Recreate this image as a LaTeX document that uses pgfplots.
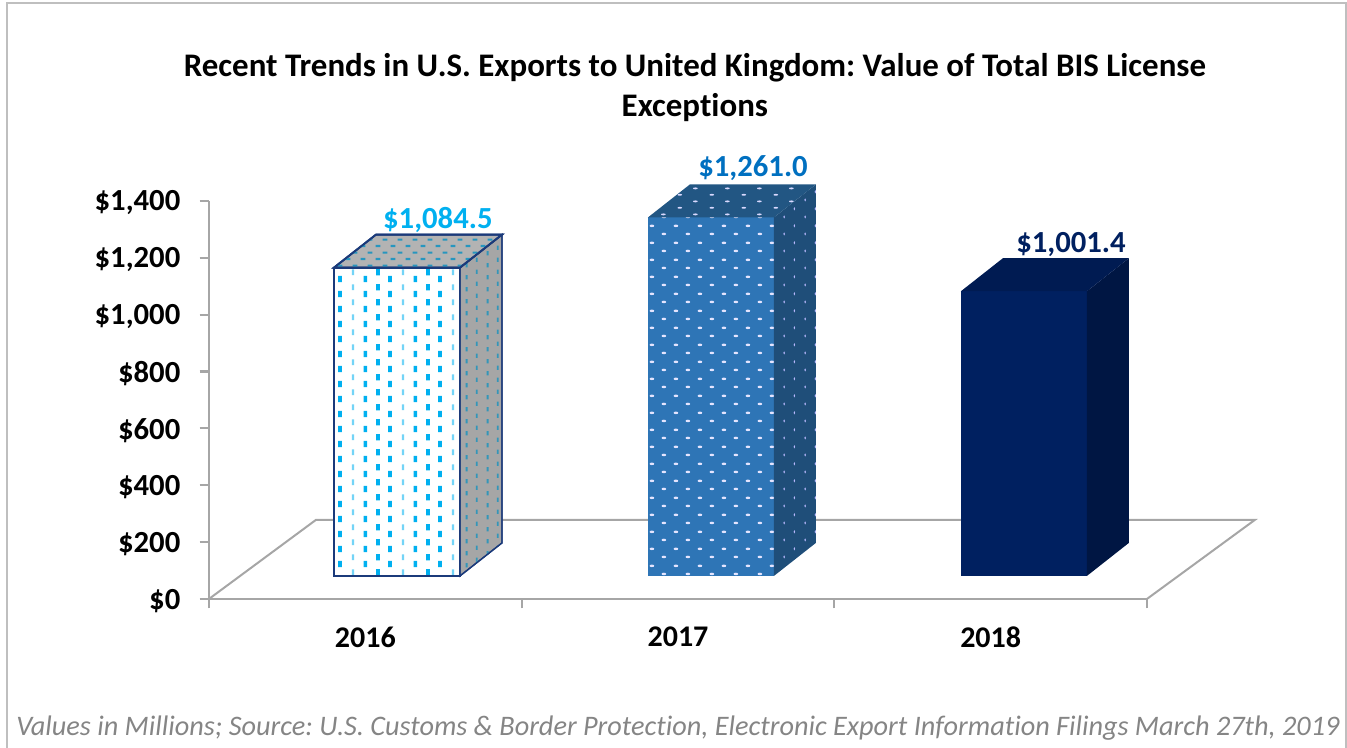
\documentclass[border=0pt]{standalone}
\usepackage{fontspec}
\setmainfont[Ligatures=NoCommon]{Carlito}
\usepackage{pgfplots}
\pgfplotsset{compat=1.18}
\usetikzlibrary{patterns}
\frenchspacing

\definecolor{axgray}{HTML}{A6A6A6}
\definecolor{framegray}{HTML}{BFBFBF}
\definecolor{footgray}{HTML}{858585}
\definecolor{cyanbar}{HTML}{00B0F0}
\definecolor{bluebar}{HTML}{0070C0}
\definecolor{navybar}{HTML}{002060}
\definecolor{edgenavy}{HTML}{1B3A7A}
\definecolor{front17}{HTML}{2E75B6}
\definecolor{side17}{HTML}{1F4E79}
\definecolor{top17}{HTML}{225683}

% 1 px of the reference = 0.75pt
\pgfdeclarepatterninherentlycolored{dashfront}
  {\pgfqpoint{0pt}{0pt}}{\pgfqpoint{37.2pt}{11.25pt}}{\pgfqpoint{37.2pt}{11.25pt}}
  {
    \pgfsetfillcolor{cyanbar!55}
    \pgfpathrectangle{\pgfqpoint{3.7pt}{6.2pt}}{\pgfqpoint{1.6pt}{4.6pt}}
    \pgfusepath{fill}
    \pgfsetfillcolor{cyanbar}
    \pgfpathrectangle{\pgfqpoint{12.5pt}{0.6pt}}{\pgfqpoint{2.6pt}{5pt}}
    \pgfpathrectangle{\pgfqpoint{21.9pt}{6pt}}{\pgfqpoint{2.8pt}{5pt}}
    \pgfpathrectangle{\pgfqpoint{31pt}{0.6pt}}{\pgfqpoint{2.8pt}{5pt}}
    \pgfusepath{fill}
  }
\pgfdeclarepatterninherentlycolored{dashside}
  {\pgfqpoint{0pt}{0pt}}{\pgfqpoint{15.8pt}{9pt}}{\pgfqpoint{15.8pt}{9pt}}
  {
    \pgfsetfillcolor{cyanbar!70!black!80}
    \pgfpathrectangle{\pgfqpoint{2pt}{0.5pt}}{\pgfqpoint{1.5pt}{3.5pt}}
    \pgfpathrectangle{\pgfqpoint{9.9pt}{5pt}}{\pgfqpoint{1.5pt}{3.5pt}}
    \pgfusepath{fill}
  }
\pgfdeclarepatterninherentlycolored{dashtop}
  {\pgfqpoint{0pt}{0pt}}{\pgfqpoint{11.25pt}{9.6pt}}{\pgfqpoint{11.25pt}{9.6pt}}
  {
    \pgfsetfillcolor{cyanbar!75!black!85}
    \pgfpathrectangle{\pgfqpoint{0.5pt}{1.4pt}}{\pgfqpoint{3.8pt}{1.6pt}}
    \pgfpathrectangle{\pgfqpoint{6.1pt}{6.2pt}}{\pgfqpoint{3.8pt}{1.6pt}}
    \pgfusepath{fill}
  }
\pgfdeclarepatterninherentlycolored{dotfront}
  {\pgfqpoint{0pt}{0pt}}{\pgfqpoint{18.3pt}{12.8pt}}{\pgfqpoint{18.3pt}{12.8pt}}
  {
    \pgfsetfillcolor{white!90!blue}
    \pgfpathellipse{\pgfqpoint{4.5pt}{3.2pt}}{\pgfqpoint{1.8pt}{0pt}}{\pgfqpoint{0pt}{1pt}}
    \pgfpathellipse{\pgfqpoint{13.7pt}{9.6pt}}{\pgfqpoint{1.8pt}{0pt}}{\pgfqpoint{0pt}{1pt}}
    \pgfusepath{fill}
  }
\pgfdeclarepatterninherentlycolored{dotside}
  {\pgfqpoint{0pt}{0pt}}{\pgfqpoint{15.8pt}{12.8pt}}{\pgfqpoint{15.8pt}{12.8pt}}
  {
    \pgfsetfillcolor{white!70!blue!90}
    \pgfpathellipse{\pgfqpoint{4pt}{3.2pt}}{\pgfqpoint{0.6pt}{0pt}}{\pgfqpoint{0pt}{1.3pt}}
    \pgfpathellipse{\pgfqpoint{11.9pt}{9.6pt}}{\pgfqpoint{0.6pt}{0pt}}{\pgfqpoint{0pt}{1.3pt}}
    \pgfusepath{fill}
  }
\pgfdeclarepatterninherentlycolored{dottop}
  {\pgfqpoint{0pt}{0pt}}{\pgfqpoint{24pt}{9.6pt}}{\pgfqpoint{24pt}{9.6pt}}
  {
    \pgfsetfillcolor{white!85!blue}
    \pgfpathellipse{\pgfqpoint{6pt}{2.4pt}}{\pgfqpoint{1.8pt}{0pt}}{\pgfqpoint{0pt}{0.7pt}}
    \pgfpathellipse{\pgfqpoint{18pt}{7.2pt}}{\pgfqpoint{1.8pt}{0pt}}{\pgfqpoint{0pt}{0.7pt}}
    \pgfusepath{fill}
  }

\begin{document}
\begin{tikzpicture}[x=0.75pt,y=0.75pt]
\path[use as bounding box] (0,0) rectangle (1347,748);
\draw[framegray,line width=1.6pt] (7.3,0) -- (7.3,744.7) -- (1345.7,744.7) -- (1345.7,0);

\begin{axis}[
    at={(156.75pt,111.8pt)},
    anchor=south west,
    scale only axis,
    width=703.5pt,
    height=298.5pt,
    xmin=0, xmax=3,
    ymin=0, ymax=1400,
    clip=false,
    axis x line*=bottom,
    axis y line*=left,
    axis line style={axgray,line width=1.7pt},
    tick style={axgray,line width=1.7pt},
    major tick length=7pt,
    tick align=outside,
    xtick={0,1,2,3},
    xticklabels={},
    extra x ticks={0.5,1.5,2.5},
    extra x tick labels={2016,2017,2018},
    extra x tick style={major tick length=0pt,tick style={draw=none}},
    ytick={0,200,400,600,800,1000,1200,1400},
    yticklabels={\$0,\$200,\$400,\$600,\$800,\$1{,}000,\$1{,}200,\$1{,}400},
    xticklabel style={font=\fontsize{22.5pt}{26pt}\selectfont\bfseries,black,yshift=-17.5pt},
    yticklabel style={font=\fontsize{23pt}{26pt}\selectfont\bfseries,black,xshift=-11pt,yshift=-1.5pt},
    title={Recent Trends in U.S. Exports to United Kingdom: Value of Total BIS License\\Exceptions},
    title style={at={(0.518,1.266)},anchor=center,align=center,
      font=\fontsize{24.7pt}{30pt}\selectfont\bfseries},
]
% floor
\addplot[axgray,line width=1.5pt] coordinates {(0,0) (0.342,278) (3.345,278) (3,0)};

% 2016
\addplot[preaction={fill=white},pattern=dashfront,draw=edgenavy,line width=1.4pt]
  coordinates {(0.3998,81) (0.8028,81) (0.8028,1165.5) (0.3998,1165.5)} -- cycle;
\addplot[preaction={fill=axgray},pattern=dashside,draw=edgenavy,line width=1pt]
  coordinates {(0.8028,81) (0.9371,197) (0.9371,1281.5) (0.8028,1165.5)} -- cycle;
\addplot[preaction={fill=axgray!85},pattern=dashtop,draw=edgenavy,line width=1.4pt]
  coordinates {(0.3998,1165.5) (0.8028,1165.5) (0.9371,1281.5) (0.5341,1281.5)} -- cycle;

% 2017
\addplot[preaction={fill=front17},pattern=dotfront,draw=none]
  coordinates {(1.404,81) (1.807,81) (1.807,1342) (1.404,1342)} -- cycle;
\addplot[preaction={fill=side17},pattern=dotside,draw=none]
  coordinates {(1.807,81) (1.941,197) (1.941,1458) (1.807,1342)} -- cycle;
\addplot[preaction={fill=top17},pattern=dottop,draw=none]
  coordinates {(1.404,1342) (1.807,1342) (1.941,1458) (1.538,1458)} -- cycle;

% 2018
\addplot[fill=navybar,draw=none]
  coordinates {(2.405,81) (2.808,81) (2.808,1082.4) (2.405,1082.4)} -- cycle;
\addplot[fill=navybar!70!black,draw=none]
  coordinates {(2.808,81) (2.942,197) (2.942,1198.4) (2.808,1082.4)} -- cycle;
\addplot[fill=navybar!85!black,draw=none]
  coordinates {(2.405,1082.4) (2.808,1082.4) (2.942,1198.4) (2.539,1198.4)} -- cycle;

% value labels
\node[cyanbar,font=\fontsize{23pt}{26pt}\selectfont\bfseries] at (axis cs:0.732,1333) {\$1,084.5};
\node[bluebar,font=\fontsize{23pt}{26pt}\selectfont\bfseries] at (axis cs:1.74,1516) {\$1,261.0};
\node[navybar,font=\fontsize{23pt}{26pt}\selectfont\bfseries] at (axis cs:2.757,1245) {\$1,001.4};
\end{axis}

\node[footgray,font=\fontsize{21.2pt}{24pt}\selectfont\itshape] at (678,20)
  {Values in Millions; Source: U.S. Customs \& Border Protection, Electronic Export Information Filings March 27th, 2019};
\end{tikzpicture}
\end{document}
